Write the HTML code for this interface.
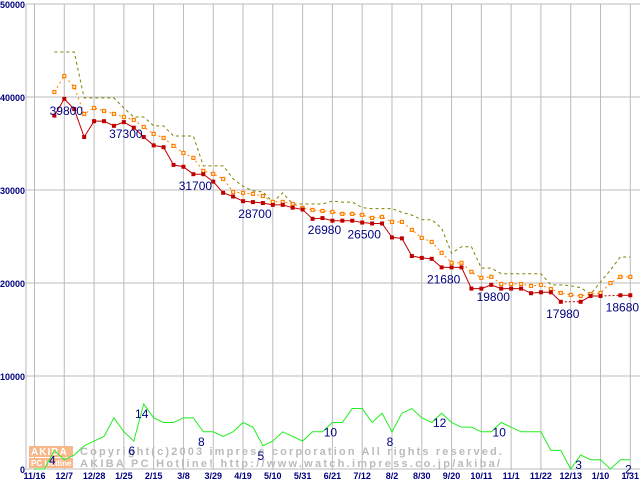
<!DOCTYPE html>
<html><head><meta charset="utf-8"><style>
html,body{margin:0;padding:0;background:#fff;}
#wrap{position:relative;width:640px;height:480px;overflow:hidden;}
svg text{font-family:"Liberation Sans",sans-serif;}
</style></head><body>
<div id="wrap">
<svg id="chart" width="640" height="480" viewBox="0 0 640 480" xmlns="http://www.w3.org/2000/svg"></svg>
</div>
<script>
const xTickLabels = ["11/16","12/7","12/28","1/25","2/15","3/8","3/29","4/19","5/10","5/31","6/21","7/12","8/2","8/30","9/20","10/11","11/1","11/22","12/13","1/10","1/31"];
const yTickValues = [0,10000,20000,30000,40000,50000];
const minPrice = [null,null,38000,39800,38700,35700,37400,37400,36900,37300,36700,35700,34800,34600,32700,32500,31700,31700,30900,29700,29300,28800,28700,28600,28400,28400,28100,27900,26900,26980,26700,26700,26700,26500,26400,26400,24900,24800,22900,22700,22600,21680,21680,21680,19400,19400,19800,19400,19400,19400,18900,19000,19000,17980,null,17980,18600,18600,null,18680,18680];
const avgPrice = [null,null,40540,42260,41080,38180,38820,38500,38180,37850,37530,36780,36030,35600,34740,33980,33450,32050,31730,31190,29790,29680,29580,29360,28720,28720,28500,28070,27860,27750,27640,27430,27430,27320,27000,27100,26570,26570,25710,24850,24420,23240,22170,22170,21200,20560,20660,19900,19900,19900,19690,19800,19360,18930,18720,18610,18820,18930,20000,20660,20660];
const maxPrice = [null,null,44840,44840,44840,39900,39900,39900,39900,38800,37850,37850,36900,36900,35800,35800,35800,32600,32600,32600,31200,30400,29900,29800,28700,29700,28500,28500,28500,28500,28800,28700,28700,28100,28000,28000,28000,27600,27300,26800,26800,25900,23200,23900,23900,21600,21600,21000,21000,21000,21000,21000,19800,19800,19700,19500,18800,20100,21400,22800,22800];
const shopCount = [0,0,4,2,3,5,6,7,11,8,6,14,11,10,10,11,11,8,8,7,8,10,9,5,6,8,7,6,8,8,10,10,13,13,10,12,8,12,13,11,10,12,10,9,9,8,8,10,9,8,8,8,4,4,0,3,2,2,0,2,2];
const priceLabelIdx = [3,9,16,22,29,33,41,46,53,59];
const countLabelIdx = [2,10,11,17,23,30,36,41,47,55,60];

const NS="http://www.w3.org/2000/svg";
const svg=document.getElementById('chart');
function X(i){return 34.5+9.93*i;}
function Y(v){return 4+(50000-v)*0.0093;}
function YC(n){return 469-n*4.65;}
function mk(tag,attrs,parent){const e=document.createElementNS(NS,tag);for(const k in attrs)e.setAttribute(k,attrs[k]);(parent||svg).appendChild(e);return e;}

const grid=mk('g',{});


mk('line',{x1:26,y1:4,x2:26,y2:470,stroke:'#bbb','stroke-width':1},grid);
mk('line',{x1:26,y1:4,x2:640,y2:4,stroke:'#bbb','stroke-width':1},grid);
xTickLabels.forEach((t,k)=>{
  const x=X(k*3);
  mk('line',{x1:x,y1:4,x2:x,y2:470,stroke:'#bbb','stroke-width':1},grid);
  const tx=mk('text',{x:x,y:479,'text-anchor':'middle','font-size':9,fill:'#000080','font-weight':'bold'});
  tx.textContent=t;
  
  
});
yTickValues.forEach(v=>{
  const y=Y(v);
  mk('line',{x1:26,y1:y,x2:640,y2:y,stroke:'#bbb','stroke-width':1},grid);
  const tx=mk('text',{x:25,y:y+4,'text-anchor':'end','font-size':9,fill:'#000080','font-weight':'bold'});
  tx.textContent=String(v);
  
  
});

const wm=mk('g',{});


mk('rect',{x:29,y:446,width:44,height:11,fill:'#f8b88a'},wm);
mk('rect',{x:29,y:458,width:44,height:10,fill:'#f8b88a'},wm);
let w1=mk('text',{x:31,y:455,'font-size':10,fill:'#fff','font-weight':'bold','letter-spacing':'1'},wm);w1.textContent='AKIBA';
let w2=mk('text',{x:31,y:466,'font-size':8,fill:'#fff','font-weight':'bold'},wm);w2.textContent='PC Hotline';
let w3=mk('text',{x:80,y:455,'font-size':11,fill:'#bbb','font-family':'Liberation Mono, monospace','font-weight':'bold',textLength:422,lengthAdjust:'spacing'},wm);w3.textContent='Copyright(c)2003 impress corporation All rights reserved.';
let w4=mk('text',{x:80,y:467,'font-size':11,fill:'#bbb','font-family':'Liberation Mono, monospace','font-weight':'bold',textLength:420,lengthAdjust:'spacing'},wm);w4.textContent='AKIBA PC Hotline!  http://www.watch.impress.co.jp/akiba/';

function drawSeries(data,yf,color,dash,name){
  const g=mk('g',{});
  
  
  let prev=null;
  data.forEach((v,i)=>{
    if(v==null)return;
    if(prev!=null && i-prev>1){
      mk('line',{x1:X(prev),y1:yf(data[prev]),x2:X(i),y2:yf(v),stroke:color,'stroke-width':1,'stroke-dasharray':'2,2'},g);
    }
    prev=i;
  });
  let seg=[];
  const flush=()=>{if(seg.length>1){mk('polyline',{points:seg.join(' '),fill:'none',stroke:color,'stroke-width':1,'stroke-dasharray':dash||'none'},g);}seg=[];};
  data.forEach((v,i)=>{if(v==null){flush();return;}seg.push(X(i)+','+yf(v));});
  flush();
  return g;
}
const gMax=drawSeries(maxPrice,Y,'#808000','3,3','max-price-line');
const gAvg=drawSeries(avgPrice,Y,'#ff8000','2,3','avg-price-line');
avgPrice.forEach((v,i)=>{if(v==null)return;
  const r=mk('rect',{x:X(i)-1.5,y:Y(v)-1.5,width:3,height:3,fill:'#fff',stroke:'#ff8000','stroke-width':1.2},gAvg);
  
  
});
const gMin=drawSeries(minPrice,Y,'#c00000',null,'min-price-line');
minPrice.forEach((v,i)=>{if(v==null)return;
  const r=mk('rect',{x:X(i)-2,y:Y(v)-2,width:4,height:4,fill:'#c00000'},gMin);
  
  
});
const gCnt=drawSeries(shopCount,YC,'#22ee22',null,'shop-count-line');

priceLabelIdx.forEach(i=>{
  const t=mk('text',{x:X(i)+2,y:Y(minPrice[i])+16,'text-anchor':'middle','font-size':12,fill:'#000080'});
  t.textContent=String(minPrice[i]);
  
  
});
countLabelIdx.forEach(i=>{
  const t=mk('text',{x:X(i)-2,y:Math.min(YC(shopCount[i])+14,474),'text-anchor':'middle','font-size':12,fill:'#000080'});
  t.textContent=String(shopCount[i]);
  
  
});
</script>
</body></html>
